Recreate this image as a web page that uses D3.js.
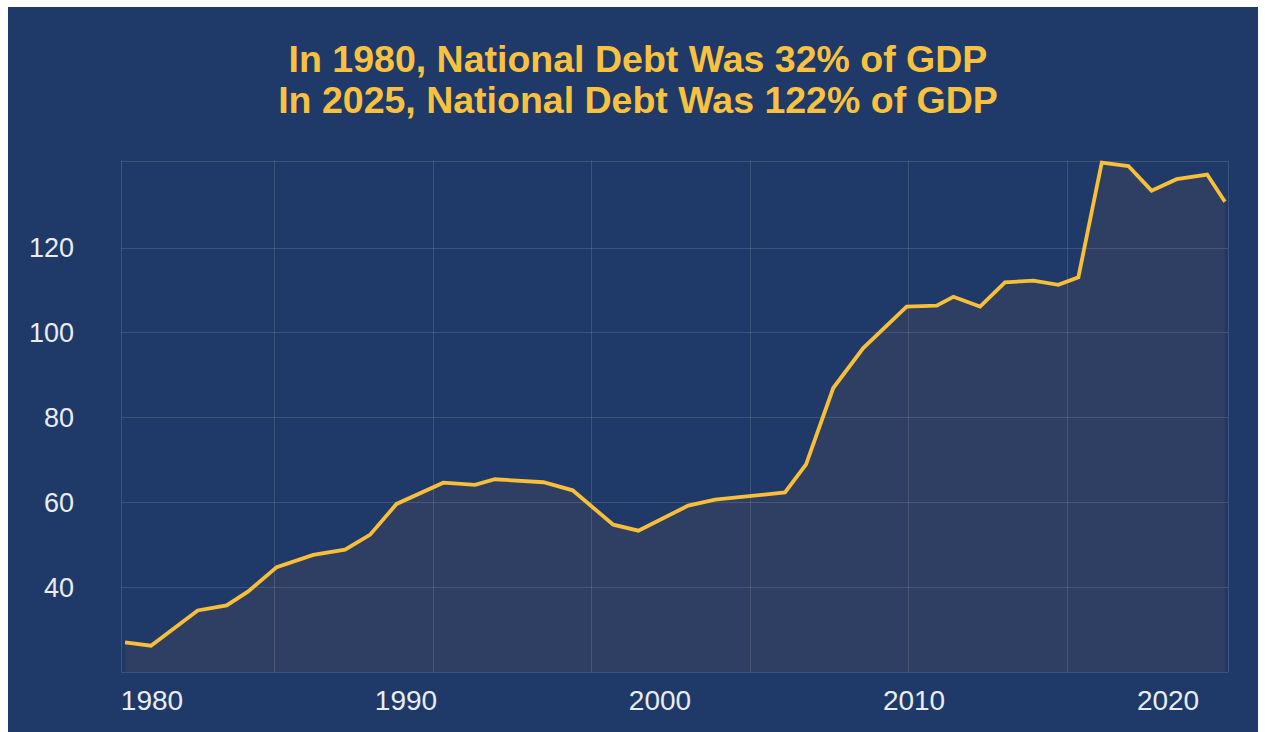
<!DOCTYPE html>
<html>
<head>
<meta charset="utf-8">
<script src="https://cdn.jsdelivr.net/npm/d3@7"></script>
<style>
  html, body { margin: 0; padding: 0; background: #ffffff; }
  svg { display: block; }
</style>
</head>
<body>
<svg id="chart" width="1265" height="732"></svg>
<script>
// ---- data ----
const titleLines = [
  "In 1980, National Debt Was 32% of GDP",
  "In 2025, National Debt Was 122% of GDP"
];
const years = [1978.94, 1979.96, 1981.80, 1982.94, 1983.79, 1984.91, 1986.35, 1987.60, 1988.58, 1989.63,
  1991.47, 1992.72, 1993.50, 1995.41, 1996.56, 1998.16, 1999.15, 2001.11, 2002.17, 2004.92,
  2005.75, 2006.82, 2008.00, 2009.71, 2010.89, 2011.55, 2012.60, 2013.58, 2014.70, 2015.68,
  2016.47, 2017.39, 2018.44, 2019.35, 2020.34, 2021.54, 2022.24];
const debtPct = [27.0, 26.2, 34.5, 35.7, 39.0, 44.7, 47.6, 48.8, 52.3, 59.6,
  64.6, 64.1, 65.4, 64.7, 62.8, 54.7, 53.3, 59.2, 60.6, 62.3,
  68.9, 86.9, 96.3, 106.1, 106.3, 108.4, 106.1, 111.8, 112.2, 111.2,
  113.0, 140.0, 139.2, 133.4, 136.1, 137.2, 130.8];
const xTickLabels = [1980, 1990, 2000, 2010, 2020];
const yTickLabels = [40, 60, 80, 100, 120];
const xDomain = [1978.78, 2022.36];
const yDomain = [20, 140.5];
const vGridStart = 1984.82, vGridStep = 6.24, vGridCount = 6;

// ---- layout ----
const svg = d3.select("#chart");
const plot = { left: 121, right: 1228, top: 160.5, bottom: 672 };
const navy = "#1f3a68";
const gridColor = "rgba(255,255,255,0.13)";
const lineColor = "#f8bf38";
const labelColor = "#e9edf3";

svg.append("rect").attr("x", 8).attr("y", 7).attr("width", 1250).attr("height", 725).attr("fill", navy);

const x = d3.scaleLinear().domain(xDomain).range([plot.left, plot.right]);
const y = d3.scaleLinear().domain(yDomain).range([plot.bottom, plot.top]);

const data = years.map((yr, i) => ({ yr, v: debtPct[i] }));

// area
const area = d3.area().x(d => x(d.yr)).y0(y(yDomain[0])).y1(d => y(d.v));
svg.append("path").datum(data).attr("d", area).attr("fill", "#2e3f63");

// grid
const g = svg.append("g");
const hVals = [yDomain[0]].concat(yTickLabels, [yDomain[1]]);
g.selectAll("line.h").data(hVals).join("line")
  .attr("x1", plot.left).attr("x2", plot.right)
  .attr("y1", d => Math.round(y(d)) + 0.5).attr("y2", d => Math.round(y(d)) + 0.5)
  .attr("stroke", gridColor).attr("stroke-width", 1);
const vVals = [xDomain[0]].concat(d3.range(vGridCount).map(i => vGridStart + i * vGridStep), [xDomain[1]]);
g.selectAll("line.v").data(vVals).join("line")
  .attr("y1", plot.top).attr("y2", plot.bottom)
  .attr("x1", d => Math.round(x(d)) + 0.5).attr("x2", d => Math.round(x(d)) + 0.5)
  .attr("stroke", gridColor).attr("stroke-width", 1);

// line
const line = d3.line().x(d => x(d.yr)).y(d => y(d.v));
svg.append("path").datum(data).attr("d", line)
  .attr("fill", "none").attr("stroke", lineColor).attr("stroke-width", 3.8)
  .attr("stroke-linejoin", "miter").attr("stroke-linecap", "butt");

// y labels
svg.append("g").selectAll("text").data(yTickLabels).join("text")
  .attr("x", 74).attr("y", d => y(d)).attr("dy", "0.35em")
  .attr("text-anchor", "end")
  .attr("font-family", "'Liberation Sans', Arial, sans-serif").attr("font-size", 27)
  .attr("fill", labelColor).text(d => d);

// x labels
svg.append("g").selectAll("text").data(xTickLabels).join("text")
  .attr("x", d => x(d)).attr("y", 710)
  .attr("text-anchor", "middle")
  .attr("font-family", "'Liberation Sans', Arial, sans-serif").attr("font-size", 28)
  .attr("fill", labelColor).text(d => d);

// title
svg.append("g").selectAll("text").data(titleLines).join("text")
  .attr("x", 638).attr("y", (d, i) => 72 + i * 41)
  .attr("text-anchor", "middle")
  .attr("font-family", "'Liberation Sans', Arial, sans-serif").attr("font-weight", "bold")
  .attr("font-size", 37.5).attr("fill", "#f8c240").text(d => d);
</script>
</body>
</html>
